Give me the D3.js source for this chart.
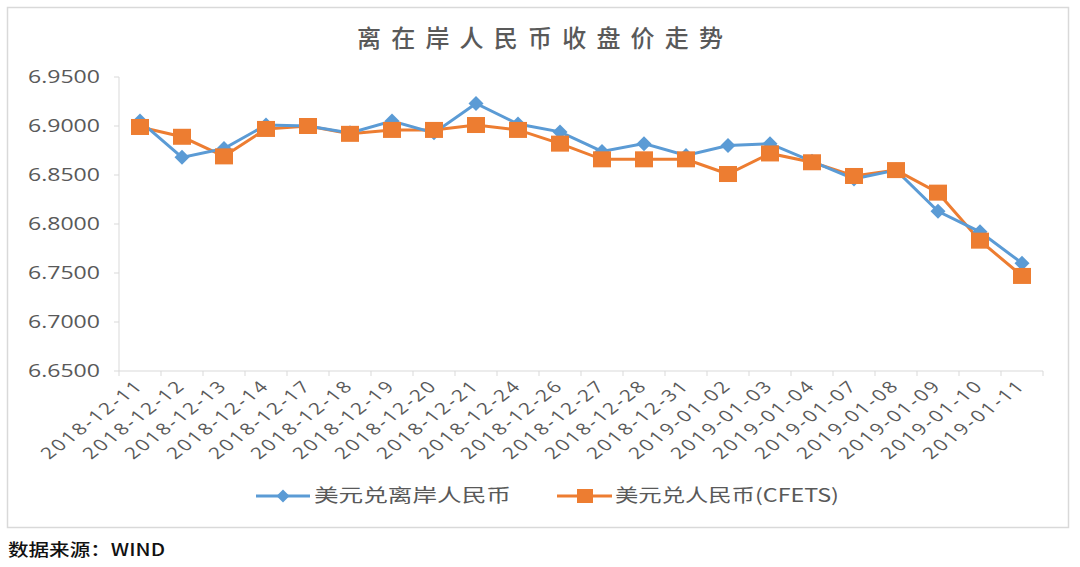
<!DOCTYPE html>
<html><head><meta charset="utf-8">
<script src="https://cdn.jsdelivr.net/npm/d3@7"></script>
<style>body{margin:0;background:#fff}svg{display:block}</style>
</head><body>
<svg id="c" width="1080" height="567"></svg>
<script>
const categories = ["2018-12-11","2018-12-12","2018-12-13","2018-12-14","2018-12-17","2018-12-18","2018-12-19","2018-12-20","2018-12-21","2018-12-24","2018-12-26","2018-12-27","2018-12-28","2018-12-31","2019-01-02","2019-01-03","2019-01-04","2019-01-07","2019-01-08","2019-01-09","2019-01-10","2019-01-11"];
const offshore = [6.905,6.868,6.877,6.901,6.900,6.893,6.905,6.893,6.923,6.902,6.894,6.874,6.882,6.870,6.880,6.882,6.864,6.846,6.855,6.813,6.792,6.760];
const onshore  = [6.899,6.889,6.869,6.897,6.900,6.892,6.896,6.896,6.901,6.896,6.882,6.866,6.866,6.866,6.851,6.872,6.863,6.849,6.855,6.832,6.783,6.747];
const yTicks = [6.65,6.70,6.75,6.80,6.85,6.90,6.95];
const seriesNames = ["美元兑离岸人民币","美元兑人民币(CFETS)"];
const title = "离在岸人民币收盘价走势";
const source = "数据来源：WIND";

const svg = d3.select("#c");
const blue = "#5B9BD5", orange = "#ED7D31", grey = "#595959", axisC = "#d9d9d9";
const numFont = "'Open Sans', 'Liberation Sans', sans-serif";
const cjkFont = "'Noto Sans CJK SC', sans-serif";

svg.append("rect").attr("x",7.5).attr("y",7.5).attr("width",1061).attr("height",520)
  .attr("fill","#fff").attr("stroke",axisC).attr("stroke-width",1.5);

const x = d3.scaleBand().domain(categories).range([119,1043]);
const y = d3.scaleLinear().domain([6.65,6.95]).range([371,77]);
const cx = d => x(d) + x.bandwidth()/2;

// title
svg.append("text").attr("x",357).attr("y",47).attr("font-family",cjkFont).attr("font-size",24)
  .attr("font-weight",500).attr("fill",grey).attr("textLength",366).attr("lengthAdjust","spacing").text(title);

// y axis
svg.append("line").attr("x1",119).attr("x2",119).attr("y1",77).attr("y2",371).attr("stroke",axisC);
const yg = svg.append("g");
yTicks.forEach(t=>{
  yg.append("line").attr("x1",114).attr("x2",119).attr("y1",y(t)).attr("y2",y(t)).attr("stroke",axisC);
  yg.append("text").attr("x",100).attr("y",y(t)).attr("dy","0.36em").attr("text-anchor","end")
    .attr("font-family",numFont).attr("font-size",18).attr("fill",grey)
    .attr("textLength",72).attr("lengthAdjust","spacingAndGlyphs").text(d3.format(".4f")(t));
});

// x axis
svg.append("line").attr("x1",119).attr("x2",1043).attr("y1",371).attr("y2",371).attr("stroke",axisC);
const bounds = categories.map(c=>x(c)).concat([x.range()[1]]);
bounds.forEach(b=>svg.append("line").attr("x1",b).attr("x2",b).attr("y1",371).attr("y2",376).attr("stroke",axisC));
categories.forEach(c=>{
  svg.append("text").attr("transform",`translate(${cx(c)+3},${388}) scale(1.3,1) rotate(-45)`)
    .attr("text-anchor","end").attr("font-family",numFont).attr("font-size",16).attr("fill",grey)
    .attr("textLength",102).attr("lengthAdjust","spacing").text(c);
});

// lines
const line = d3.line().x((d,i)=>cx(categories[i])).y(d=>y(d));
svg.append("path").datum(onshore).attr("d",line).attr("fill","none").attr("stroke",orange).attr("stroke-width",3);
svg.append("path").datum(offshore).attr("d",line).attr("fill","none").attr("stroke",blue).attr("stroke-width",3);
svg.selectAll(".dm").data(offshore).enter().append("path")
  .attr("d","M0,-7.5L7.5,0L0,7.5L-7.5,0Z").attr("fill",blue)
  .attr("transform",(d,i)=>`translate(${cx(categories[i])},${y(d)})`);
svg.selectAll(".sq").data(onshore).enter().append("rect")
  .attr("x",(d,i)=>cx(categories[i])-9).attr("y",d=>y(d)-8).attr("width",18).attr("height",16).attr("fill",orange);

// legend
const ly = 496;
svg.append("line").attr("x1",256).attr("x2",310).attr("y1",ly).attr("y2",ly).attr("stroke",blue).attr("stroke-width",3);
svg.append("path").attr("d","M0,-6.5L6.5,0L0,6.5L-6.5,0Z").attr("fill",blue).attr("transform",`translate(283,${ly})`);
svg.append("text").attr("x",314).attr("y",ly).attr("dy","0.36em").attr("font-family",cjkFont).attr("font-size",18)
  .attr("fill",grey).attr("textLength",197).attr("lengthAdjust","spacingAndGlyphs").text(seriesNames[0]);
svg.append("line").attr("x1",557).attr("x2",612).attr("y1",ly).attr("y2",ly).attr("stroke",orange).attr("stroke-width",3);
svg.append("rect").attr("x",577).attr("y",ly-7).attr("width",16).attr("height",14).attr("fill",orange);
svg.append("text").attr("x",615).attr("y",ly).attr("dy","0.36em").attr("font-family",cjkFont).attr("font-size",18)
  .attr("fill",grey).attr("textLength",224).attr("lengthAdjust","spacingAndGlyphs").text(seriesNames[1]);

// source
svg.append("text").attr("x",8).attr("y",550).attr("dy","0.36em").attr("font-family",cjkFont).attr("font-size",17)
  .attr("font-weight",500).attr("fill","#111").attr("textLength",157).attr("lengthAdjust","spacingAndGlyphs").text(source);
</script>
</body></html>
